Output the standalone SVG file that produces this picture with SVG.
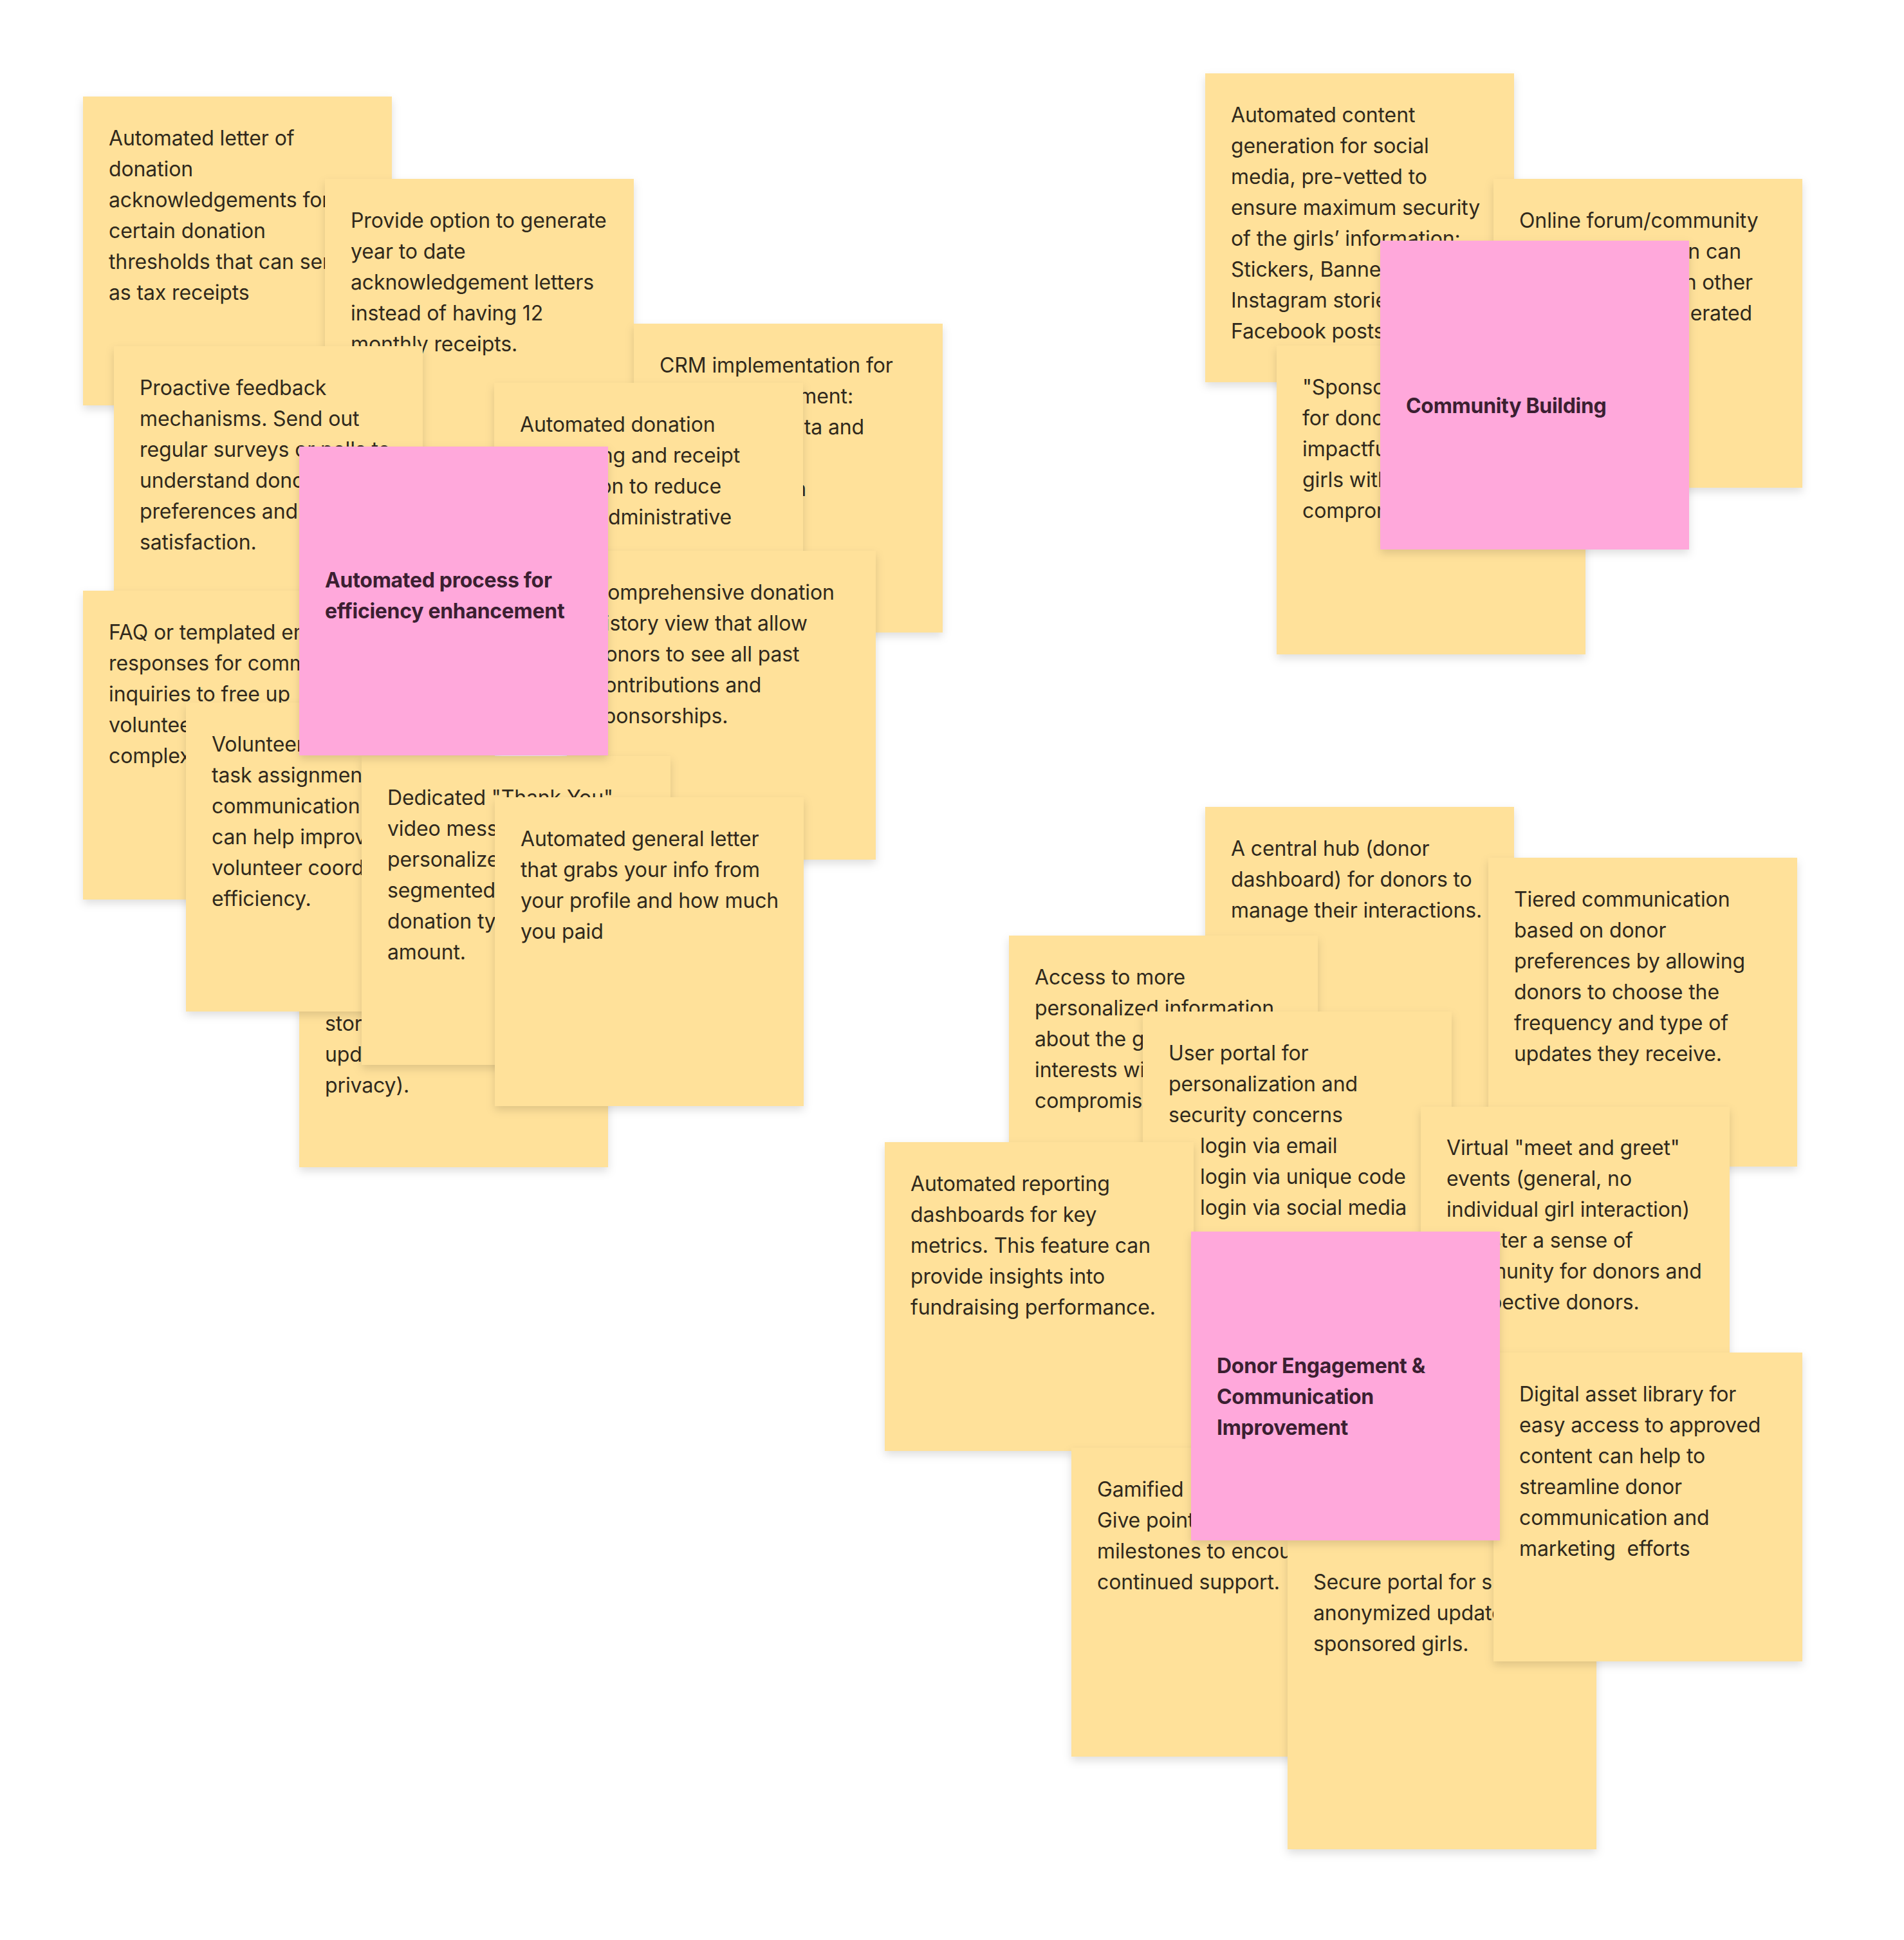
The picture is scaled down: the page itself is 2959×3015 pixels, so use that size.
<svg xmlns="http://www.w3.org/2000/svg" width="2959" height="3015" viewBox="0 0 2959 3015">
<defs>
<filter id="sh" x="-10%" y="-10%" width="120%" height="125%">
<feDropShadow dx="0" dy="6" stdDeviation="7" flood-color="#000" flood-opacity="0.13"/>
</filter>
<style>
.y{fill:#FFE19A;filter:url(#sh)}
.p{fill:#FFA8DB;filter:url(#sh)}
text{font-family:Inter,"Noto Sans","Liberation Sans",sans-serif;font-size:32px;letter-spacing:-0.12px}
.t{fill:#30291c}
.b{fill:#3b1f31;font-weight:700;letter-spacing:-0.3px}
.e{text-anchor:end}
</style>
</defs>
<rect width="2959" height="3015" fill="#ffffff"/>
<g id="connectors"></g>

<g id="note-a"><rect class="y" x="129" y="150" width="480" height="480"/>
<text class="t"><tspan x="169" y="226">Automated letter of</tspan><tspan x="169" y="274">donation</tspan><tspan x="169" y="322">acknowledgements for</tspan><tspan x="169" y="370">certain donation</tspan><tspan x="169" y="418">thresholds that can serve</tspan><tspan x="169" y="466">as tax receipts</tspan></text></g>

<g id="note-b"><rect class="y" x="505" y="278" width="480" height="480"/>
<text class="t"><tspan x="545" y="354">Provide option to generate</tspan><tspan x="545" y="402">year to date</tspan><tspan x="545" y="450">acknowledgement letters</tspan><tspan x="545" y="498">instead of having 12</tspan><tspan x="545" y="546">monthly receipts.</tspan></text></g>

<g id="note-c"><rect class="y" x="985" y="503" width="480" height="480"/>
<text class="t"><tspan x="1025" y="579">CRM implementation for</tspan></text>
<text class="t e"><tspan x="1326" y="627">ment:</tspan><tspan x="1343" y="675">ta and</tspan><tspan x="1253" y="771">n</tspan></text></g>

<g id="note-d"><rect class="y" x="177" y="538" width="480" height="480"/>
<text class="t"><tspan x="217" y="614">Proactive feedback</tspan><tspan x="217" y="662">mechanisms. Send out</tspan><tspan x="217" y="710">regular surveys or polls to</tspan><tspan x="217" y="758">understand donor</tspan><tspan x="217" y="806">preferences and</tspan><tspan x="217" y="854">satisfaction.</tspan></text></g>

<g id="note-e"><rect class="y" x="768" y="595" width="480" height="480"/>
<text class="t"><tspan x="808" y="671">Automated donation</tspan></text>
<text class="t e"><tspan x="1150" y="719">ng and receipt</tspan><tspan x="1121" y="767">on to reduce</tspan><tspan x="1137" y="815">dministrative</tspan></text></g>

<g id="note-f"><rect class="y" x="881" y="856" width="480" height="480"/>
<text class="t"><tspan x="921" y="932">Comprehensive donation</tspan><tspan x="921" y="980">history view that allow</tspan><tspan x="921" y="1028">donors to see all past</tspan><tspan x="921" y="1076">contributions and</tspan><tspan x="921" y="1124">sponsorships.</tspan></text></g>

<g id="note-g"><rect class="y" x="129" y="918" width="480" height="480"/>
<text class="t"><tspan x="169" y="994">FAQ or templated email</tspan><tspan x="169" y="1042">responses for common</tspan><tspan x="169" y="1090">inquiries to free up</tspan><tspan x="169" y="1138">volunteer</tspan><tspan x="169" y="1186">complex</tspan></text></g>

<g id="note-i"><rect class="y" x="465" y="1334" width="480" height="480"/>
<text class="t"><tspan x="505" y="1602">stories</tspan><tspan x="505" y="1650">updates</tspan><tspan x="505" y="1698">privacy).</tspan></text></g>

<g id="note-h"><rect class="y" x="289" y="1092" width="480" height="480"/>
<text class="t"><tspan x="329" y="1168">Volunteer</tspan><tspan x="329" y="1216">task assignment</tspan><tspan x="329" y="1264">communication</tspan><tspan x="329" y="1312">can help improve</tspan><tspan x="329" y="1360">volunteer coord</tspan><tspan x="329" y="1408">efficiency.</tspan></text></g>

<g id="note-j"><rect class="y" x="562" y="1175" width="480" height="480"/>
<text class="t"><tspan x="602" y="1251">Dedicated "Thank You"</tspan><tspan x="602" y="1299">video messages</tspan><tspan x="602" y="1347">personalized</tspan><tspan x="602" y="1395">segmented</tspan><tspan x="602" y="1443">donation type</tspan><tspan x="602" y="1491">amount.</tspan></text></g>

<g id="note-k"><rect class="y" x="769" y="1239" width="480" height="480"/>
<text class="t"><tspan x="809" y="1315">Automated general letter</tspan><tspan x="809" y="1363">that grabs your info from</tspan><tspan x="809" y="1411">your profile and how much</tspan><tspan x="809" y="1459">you paid</tspan></text></g>

<g id="topic-efficiency"><rect class="p" x="465" y="694" width="480" height="480"/>
<text class="b"><tspan x="505" y="913">Automated process for</tspan><tspan x="505" y="961">efficiency enhancement</tspan></text></g>

<g id="note-content"><rect class="y" x="1873" y="114" width="480" height="480"/>
<text class="t"><tspan x="1913" y="190">Automated content</tspan><tspan x="1913" y="238">generation for social</tspan><tspan x="1913" y="286">media, pre-vetted to</tspan><tspan x="1913" y="334">ensure maximum security</tspan><tspan x="1913" y="382">of the girls’ information:</tspan><tspan x="1913" y="430">Stickers, Banners</tspan><tspan x="1913" y="478">Instagram stories</tspan><tspan x="1913" y="526">Facebook posts</tspan></text></g>

<g id="note-forum"><rect class="y" x="2321" y="278" width="480" height="480"/>
<text class="t"><tspan x="2361" y="354">Online forum/community</tspan></text>
<text class="t e"><tspan x="2706" y="402">n can</tspan><tspan x="2724" y="450">n other</tspan><tspan x="2723" y="498">erated</tspan></text></g>

<g id="note-sponsor"><rect class="y" x="1984" y="537" width="480" height="480"/>
<text class="t"><tspan x="2024" y="613">"Sponsor</tspan><tspan x="2024" y="661">for donors</tspan><tspan x="2024" y="709">impactful</tspan><tspan x="2024" y="757">girls with</tspan><tspan x="2024" y="805">compromising</tspan></text></g>

<g id="topic-community"><rect class="p" x="2145" y="374" width="480" height="480"/>
<text class="b"><tspan x="2185" y="642">Community Building</tspan></text></g>

<g id="note-hub"><rect class="y" x="1873" y="1254" width="480" height="480"/>
<text class="t"><tspan x="1913" y="1330">A central hub (donor</tspan><tspan x="1913" y="1378">dashboard) for donors to</tspan><tspan x="1913" y="1426">manage their interactions.</tspan></text></g>

<g id="note-tiered"><rect class="y" x="2313" y="1333" width="480" height="480"/>
<text class="t"><tspan x="2353" y="1409">Tiered communication</tspan><tspan x="2353" y="1457">based on donor</tspan><tspan x="2353" y="1505">preferences by allowing</tspan><tspan x="2353" y="1553">donors to choose the</tspan><tspan x="2353" y="1601">frequency and type of</tspan><tspan x="2353" y="1649">updates they receive.</tspan></text></g>

<g id="note-access"><rect class="y" x="1568" y="1454" width="480" height="480"/>
<text class="t"><tspan x="1608" y="1530">Access to more</tspan><tspan x="1608" y="1578">personalized information</tspan><tspan x="1608" y="1626">about the girls</tspan><tspan x="1608" y="1674">interests without</tspan><tspan x="1608" y="1722">compromising</tspan></text></g>

<g id="note-portal"><rect class="y" x="1776" y="1572" width="480" height="480"/>
<text class="t"><tspan x="1816" y="1648">User portal for</tspan><tspan x="1816" y="1696">personalization and</tspan><tspan x="1816" y="1744">security concerns</tspan><tspan x="1865" y="1792">login via email</tspan><tspan x="1865" y="1840">login via unique code</tspan><tspan x="1865" y="1888">login via social media</tspan></text></g>

<g id="note-virtual"><rect class="y" x="2208" y="1720" width="480" height="480"/>
<text class="t"><tspan x="2248" y="1795">Virtual "meet and greet"</tspan><tspan x="2248" y="1843">events (general, no</tspan><tspan x="2248" y="1891">individual girl interaction)</tspan><tspan x="2248" y="1939">to foster a sense of</tspan><tspan x="2248" y="1987">community for donors and</tspan><tspan x="2248" y="2035">prospective donors.</tspan></text></g>

<g id="note-reporting"><rect class="y" x="1375" y="1775" width="480" height="480"/>
<text class="t"><tspan x="1415" y="1851">Automated reporting</tspan><tspan x="1415" y="1899">dashboards for key</tspan><tspan x="1415" y="1947">metrics. This feature can</tspan><tspan x="1415" y="1995">provide insights into</tspan><tspan x="1415" y="2043">fundraising performance.</tspan></text></g>

<g id="note-gamified"><rect class="y" x="1665" y="2250" width="480" height="480"/>
<text class="t"><tspan x="1705" y="2326">Gamified</tspan><tspan x="1705" y="2374">Give points</tspan><tspan x="1705" y="2422">milestones to encourage</tspan><tspan x="1705" y="2470">continued support.</tspan></text></g>

<g id="note-secure"><rect class="y" x="2001" y="2394" width="480" height="480"/>
<text class="t"><tspan x="2041" y="2470">Secure portal for sharing</tspan><tspan x="2041" y="2518">anonymized updates</tspan><tspan x="2041" y="2566">sponsored girls.</tspan></text></g>

<g id="note-asset"><rect class="y" x="2321" y="2102" width="480" height="480"/>
<text class="t"><tspan x="2361" y="2178">Digital asset library for</tspan><tspan x="2361" y="2226">easy access to approved</tspan><tspan x="2361" y="2274">content can help to</tspan><tspan x="2361" y="2322">streamline donor</tspan><tspan x="2361" y="2370">communication and</tspan><tspan x="2361" y="2418">marketing&#160; efforts</tspan></text></g>

<g id="topic-engagement"><rect class="p" x="1851" y="1914" width="480" height="480"/>
<text class="b"><tspan x="1891" y="2134">Donor Engagement &amp;</tspan><tspan x="1891" y="2182">Communication</tspan><tspan x="1891" y="2230">Improvement</tspan></text></g>
</svg>
